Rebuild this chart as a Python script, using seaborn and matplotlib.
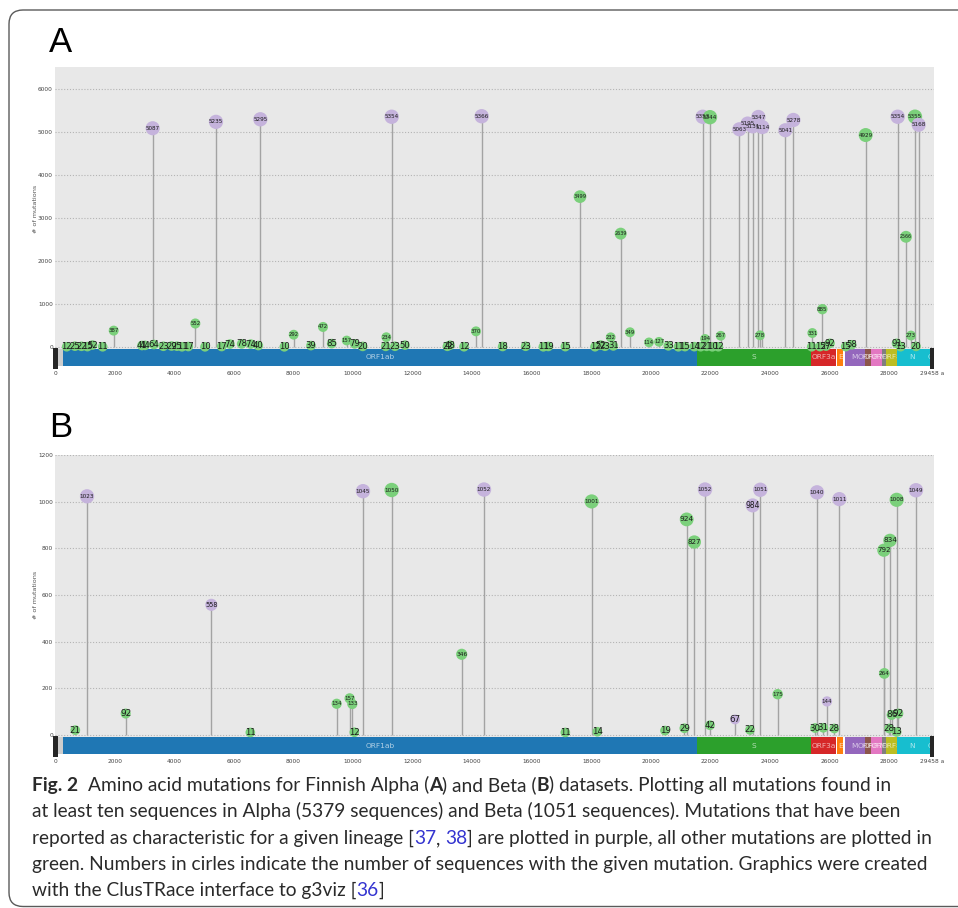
import matplotlib
matplotlib.use("Agg")
import numpy as np
import pandas as pd
import matplotlib.pyplot as plt
import seaborn as sns
from matplotlib.patches import Rectangle, FancyBboxPatch
from matplotlib.transforms import IdentityTransform, blended_transform_factory
from matplotlib.font_manager import FontProperties

# ---------------- data ----------------
# Panel A (Alpha): amino-acid position, number of sequences, characteristic (1 = purple)
a_pos = [379, 657, 877, 1076, 1245, 1588, 1958, 2908, 3008, 3307, 3267, 3626, 3904, 4084, 4253,
         4465, 4700, 5025, 5394, 5585, 5864, 6257, 6561, 6816, 6884, 7689, 8004, 8585, 8989,
         9281, 9785, 10053, 10322, 11095, 11116, 11407, 11744, 11296, 13167, 13255, 13725,
         14128, 14319, 15023, 15796, 16390, 16558, 17129, 17622, 18126, 18316, 18461, 18741,
         18653, 18989, 19301, 19939, 20275, 20588, 20925, 21148, 21461, 21675, 21877, 22066,
         22268, 21821, 22348, 21742, 21988, 22973, 23253, 23422, 23613, 23747, 23669, 24519,
         24788, 25426, 25405, 25684, 25886, 26020, 25762, 26546, 26747, 27218, 28293, 28256,
         28393, 28572, 28740, 28874, 28908, 28998]
a_count = [12, 25, 22, 15, 52, 11, 387, 41, 44, 64, 5087, 23, 29, 25, 11,
           17, 552, 10, 5235, 17, 74, 78, 74, 40, 5295, 10, 292, 39, 472,
           85, 157, 79, 20, 21, 234, 23, 50, 5354, 22, 48, 12,
           370, 5366, 18, 23, 11, 19, 15, 3499, 12, 52, 23, 31,
           232, 2639, 349, 114, 127, 33, 11, 15, 14, 12, 21, 10,
           12, 194, 267, 5353, 5344, 5063, 5195, 5131, 5347, 5114, 278, 5041,
           5278, 331, 11, 15, 27, 92, 885, 15, 58, 4929, 5354, 91,
           13, 2566, 273, 5355, 20, 5168]
a_char = [0, 0, 0, 0, 0, 0, 0, 0, 0, 0, 1, 0, 0, 0, 0,
          0, 0, 0, 1, 0, 0, 0, 0, 0, 1, 0, 0, 0, 0,
          0, 0, 0, 0, 0, 0, 0, 0, 1, 0, 0, 0,
          0, 1, 0, 0, 0, 0, 0, 0, 0, 0, 0, 0,
          0, 0, 0, 0, 0, 0, 0, 0, 0, 0, 0, 0,
          0, 0, 0, 1, 0, 1, 1, 1, 1, 1, 0, 1,
          1, 0, 0, 0, 0, 0, 0, 0, 0, 0, 1, 0,
          0, 0, 0, 0, 0, 1]

# Panel B (Beta)
b_pos = [669, 1062, 2361, 5238, 6548, 9448, 9884, 9974, 10041, 10332, 11296, 13648, 14397,
         17129, 18014, 18204, 20477, 21126, 21205, 21461, 21821, 21988, 22829, 23332, 23422,
         23678, 24262, 25516, 25583, 25796, 25918, 26164, 26333, 27828, 27844, 28011, 28034,
         28090, 28259, 28259, 28315, 28908]
b_count = [21, 1023, 92, 558, 11, 134, 157, 133, 12, 1045, 1050, 346, 1052,
           11, 1001, 14, 19, 29, 924, 827, 1052, 42, 67, 22, 984,
           1051, 175, 30, 1040, 31, 144, 28, 1011, 792, 264, 28, 834,
           86, 13, 1008, 92, 1049]
b_char = [0, 1, 0, 1, 0, 0, 0, 0, 0, 1, 0, 0, 1,
          0, 0, 0, 0, 0, 0, 0, 1, 0, 1, 0, 1,
          1, 0, 0, 1, 0, 1, 0, 1, 0, 0, 0, 0,
          0, 0, 0, 0, 1]

gene_names = ["ORF1ab", "S", "ORF3a", "E", "M", "ORF6", "ORF7a", "ORF7b", "ORF8", "N", "C"]
gene_start = [266, 21563, 25393, 26245, 26523, 27202, 27394, 27756, 27894, 28274, 29290]
gene_end = [21555, 25384, 26220, 26472, 27191, 27387, 27759, 27887, 28259, 29290, 29458]
gene_palette_index = [0, 2, 3, 1, 4, 5, 6, 7, 8, 9, 9]
protein_length = 29458

x_ticks = [0, 2000, 4000, 6000, 8000, 10000, 12000, 14000, 16000, 18000, 20000, 22000,
           24000, 26000, 28000, 29458]
x_tick_labels = ["0", "2000", "4000", "6000", "8000", "10000", "12000", "14000", "16000",
                 "18000", "20000", "22000", "24000", "26000", "28000", "29458 a"]
a_yticks = [0, 1000, 2000, 3000, 4000, 5000, 6000]
b_yticks = [0, 200, 400, 600, 800, 1000, 1200]

caption_lines = [
    [("Fig. 2", "bold", "t"), ("  Amino acid mutations for Finnish Alpha (", "normal", "t"),
     ("A", "bold", "t"), (") and Beta (", "normal", "t"), ("B", "bold", "t"),
     (") datasets. Plotting all mutations found in", "normal", "t")],
    [("at least ten sequences in Alpha (5379 sequences) and Beta (1051 sequences). Mutations that have been",
      "normal", "t")],
    [("reported as characteristic for a given lineage [", "normal", "t"), ("37", "normal", "l"),
     (", ", "normal", "t"), ("38", "normal", "l"),
     ("] are plotted in purple, all other mutations are plotted in", "normal", "t")],
    [("green. Numbers in cirles indicate the number of sequences with the given mutation. Graphics were created",
      "normal", "t")],
    [("with the ClusTRace interface to g3viz [", "normal", "t"), ("36", "normal", "l"), ("]", "normal", "t")],
]

# ---------------- style ----------------
sns.set_theme(style="white")
plt.rcParams["font.family"] = ["DejaVu Sans"]

W, H, DPI = 958, 908, 100
BG = "#e8e8e8"
GRID = "#b4b4b4"
STEM = "#a3a3a3"
PURPLE = "#c5b3dc"
GREEN = "#7bd07b"
_tab10 = sns.color_palette("tab10", 10).as_hex()
gene_colors = [_tab10[i] for i in gene_palette_index]

fig = plt.figure(figsize=(W / DPI, H / DPI), dpi=DPI)
fig.patch.set_facecolor("white")

px_x0, px_scale = 55.4, 0.02977
ax_left, ax_right = 55.0, 934.0
XMIN = (ax_left - px_x0) / px_scale
XMAX = (ax_right - px_x0) / px_scale


def make_axes(top_px, bottom_px):
    return fig.add_axes([ax_left / W, 1 - bottom_px / H, (ax_right - ax_left) / W,
                         (bottom_px - top_px) / H])


def draw_panel(ax, pos, cnt, char, ylim, yticks, bar_top_val, ylabel_y):
    df = pd.DataFrame({"pos": pos, "count": cnt,
                       "kind": np.where(np.array(char) == 1, "char", "other")})
    vmax = df["count"].max()
    r = 4.8 + 2.4 * df["count"] / vmax
    df["area"] = (2 * r * 72 / DPI) ** 2
    amin, amax = df["area"].min(), df["area"].max()

    ax.set_xlim(XMIN, XMAX)
    ax.set_ylim(*ylim)
    ax.set_facecolor("white")
    ax.axhspan(bar_top_val, ylim[1], color=BG, lw=0, zorder=0)
    for yt in yticks:
        ax.axhline(yt, color=GRID, ls=(0, (1, 1.6)), lw=0.8, zorder=0.5)
    ax.vlines(df["pos"], 0, df["count"], color=STEM, lw=1.0, zorder=1)

    # gene bar
    tr = blended_transform_factory(ax.transData, ax.transAxes)
    ax.add_patch(Rectangle((0, 0.010), gene_start[0], 0.056, transform=tr,
                           color="#cdcdcd", lw=0, zorder=2))
    z = 2.0
    for name, s, e, c in zip(gene_names, gene_start, gene_end, gene_colors):
        z += 0.02
        ax.add_patch(Rectangle((s, 0.010), e - s, 0.056, transform=tr, color=c, lw=0, zorder=z))
        z += 0.02
        ax.text((s + e) / 2, 0.038, name, transform=tr, ha="center", va="center",
                fontsize=5.3, color="white", alpha=0.65, zorder=z)
    ax.add_patch(Rectangle((-85, 0.0), 170, 0.07, transform=tr, color="#262626",
                           lw=0, zorder=2.6, clip_on=False))
    ax.add_patch(Rectangle((protein_length - 70, 0.0), 112, 0.07, transform=tr,
                           color="#262626", lw=0, zorder=2.6, clip_on=False))

    sns.scatterplot(data=df, x="pos", y="count", hue="kind",
                    palette={"char": PURPLE, "other": GREEN},
                    size="area", sizes=(amin, amax), size_norm=(amin, amax),
                    legend=False, linewidth=0, ax=ax, zorder=3)
    for p, c, rr in zip(df["pos"], df["count"], r):
        nd = len(str(c))
        wpx = (2.2 if nd <= 2 else 2.0) * rr
        fpx = wpx / (nd * 0.62)
        ax.text(p, c, str(c), ha="center", va="center", fontsize=fpx * 72 / DPI,
                color="#1c1c1c", zorder=4)

    for sp in ax.spines.values():
        sp.set_visible(False)
    ax.set_xticks(x_ticks)
    ax.set_xticklabels(x_tick_labels)
    ax.set_yticks(yticks)
    ax.set_yticklabels([str(v) for v in yticks])
    ax.tick_params(axis="both", length=0, labelsize=4.2, labelcolor="#444444", pad=1.5)
    ax.set_xlabel("")
    ax.set_ylabel("# of mutations", fontsize=4.6, color="#555555")
    ax.yaxis.set_label_coords((38 - ax_left) / (ax_right - ax_left), ylabel_y)
    ax.grid(False)


# Panel A
axA = make_axes(67.4, 368.8)
draw_panel(axA, a_pos, a_count, a_char, (-500, 6500), a_yticks, -60, 0.53)
# Panel B
axB = make_axes(455.0, 757.2)
draw_panel(axB, b_pos, b_count, b_char, (-95, 1200), b_yticks, -8, 0.537)

ident = IdentityTransform()
# panel letters
fig.text(49, H - 52, "A", transform=ident, fontsize=25, family=["Liberation Sans", "DejaVu Sans"],
         ha="left", va="baseline", color="black")
fig.text(49, H - 437, "B", transform=ident, fontsize=25, family=["Liberation Sans", "DejaVu Sans"],
         ha="left", va="baseline", color="black")

# frame
frame = FancyBboxPatch((9, 1.5), 1000, 896.5, boxstyle="round,pad=0,rounding_size=14",
                       transform=ident, fill=False, ec="#5a5a5a", lw=1.0)
fig.patches.append(frame)

# caption
CAP_FAMILY = ["Liberation Sans Narrow", "Lato", "DejaVu Sans"]
TEXT_C, LINK_C = "#2a2a2a", "#3434d0"
renderer = fig.canvas.get_renderer()


def adv(s, fp):
    if not s:
        return 0.0
    w1 = renderer.get_text_width_height_descent("I" + s + "I", fp, ismath=False)[0]
    w0 = renderer.get_text_width_height_descent("II", fp, ismath=False)[0]
    return w1 - w0


def line_width(segs, fs):
    return sum(adv(t, FontProperties(family=CAP_FAMILY, size=fs, weight=wt)) for t, wt, _ in segs)


targets = [868, 869, 901, 903]
base = 14.0
meas = [line_width(caption_lines[i], base) for i in range(4)]
cap_fs = base * sum(targets) / sum(meas)

baselines = [791, 817.5, 844, 870, 896]
for segs, yb in zip(caption_lines, baselines):
    x = 32.0
    for t, wt, col in segs:
        fp = FontProperties(family=CAP_FAMILY, size=cap_fs, weight=wt)
        lead = len(t) - len(t.lstrip())
        fig.text(x + adv(t[:lead], fp), H - yb, t.strip(), transform=ident, fontproperties=fp,
                 color=TEXT_C if col == "t" else LINK_C, ha="left", va="baseline")
        x += adv(t, fp)

fig.savefig("out.png", dpi=DPI, facecolor="white")
